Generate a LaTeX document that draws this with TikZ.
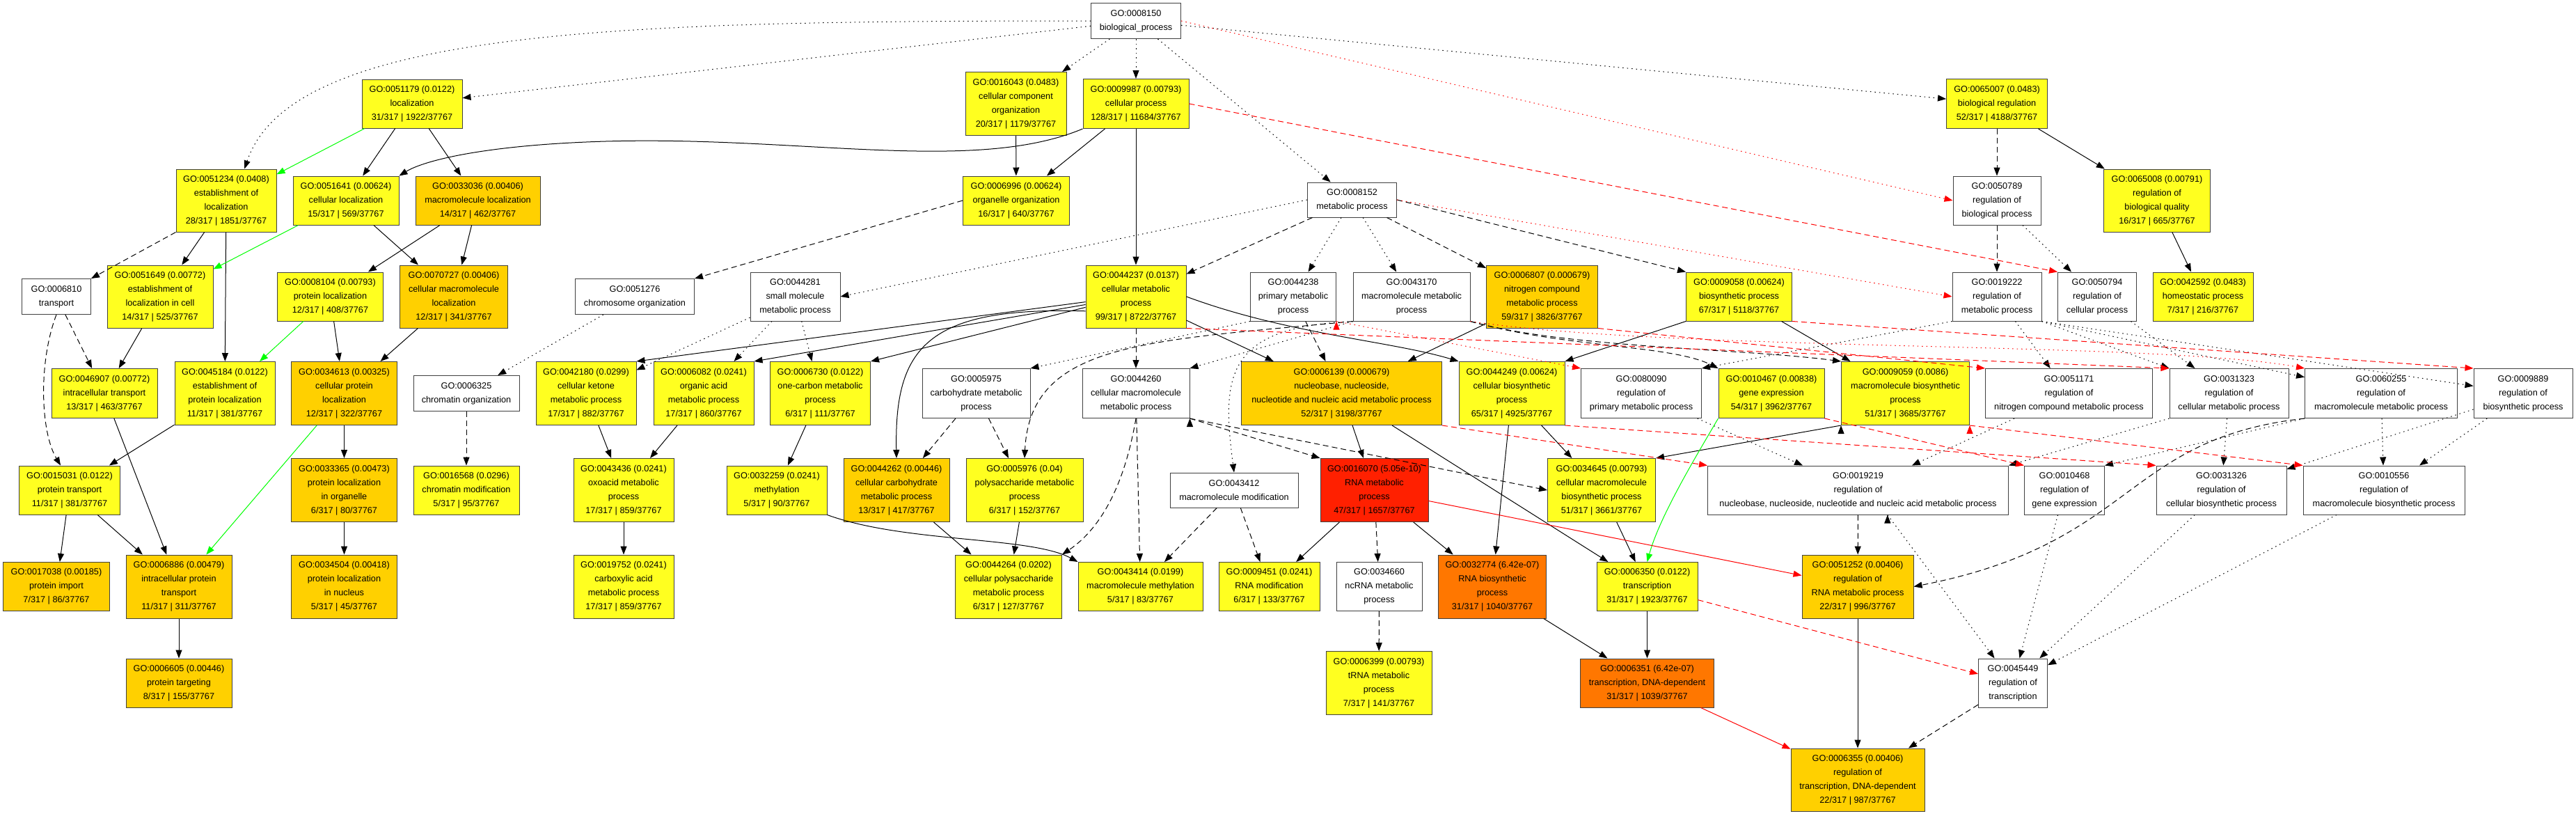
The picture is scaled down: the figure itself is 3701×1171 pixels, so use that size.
\documentclass[tikz,border=0pt]{standalone}
\usepackage{fontspec}
\setmainfont{Liberation Sans}
\usetikzlibrary{arrows.meta}

\definecolor{goyellow}{HTML}{FFFF20}
\definecolor{gogold}{HTML}{FFD000}
\definecolor{goorange}{HTML}{FF7700}
\definecolor{gored}{HTML}{FF2000}

\begin{document}
\begin{tikzpicture}[x=1pt, y=-1pt,
    gobox/.style={draw=black!75, line width=1pt, inner sep=0pt, align=center,
        font=\fontsize{12.7}{20}\selectfont},
    wbox/.style={gobox, fill=white},
    ybox/.style={gobox, fill=goyellow},
    gbox/.style={gobox, fill=gogold},
    obox/.style={gobox, fill=goorange},
    rbox/.style={gobox, fill=gored},
    sz/.style 2 args={minimum width=#1pt, minimum height=#2pt},
    solidarr/.style={-{Triangle[length=12pt, width=9pt]}, line width=1pt},
    dasharr/.style={solidarr, dash pattern=on 8pt off 5pt},
    dotarr/.style={solidarr, dash pattern=on 1.5pt off 5pt},
    grnarr/.style={solidarr, green},
    rdasharr/.style={dasharr, red},
    rdotarr/.style={dotarr, red},
    rsolarr/.style={solidarr, red}]

    \path[use as bounding box, fill=white] (0, 0) rectangle (3701, 1171);

    % top rows
    \node[wbox, sz={129}{51}] (n8150) at (1632, 30) {GO:0008150\\biological\_process};
    \node[ybox, sz={144}{70}] (n51179) at (592, 149) {GO:0051179 (0.0122)\\localization\\31/317 | 1922/37767};
    \node[ybox, sz={145}{91}] (n16043) at (1459.5, 149) {GO:0016043 (0.0483)\\cellular component\\organization\\20/317 | 1179/37767};
    \node[ybox, sz={152}{71}] (n9987) at (1632, 149) {GO:0009987 (0.00793)\\cellular process\\128/317 | 11684/37767};
    \node[ybox, sz={145}{71}] (n65007) at (2869, 149) {GO:0065007 (0.0483)\\biological regulation\\52/317 | 4188/37767};

    \node[ybox, sz={144}{90}] (n51234) at (325, 288) {GO:0051234 (0.0408)\\establishment of\\localization\\28/317 | 1851/37767};
    \node[ybox, sz={152}{70}] (n51641) at (497, 288) {GO:0051641 (0.00624)\\cellular localization\\15/317 | 569/37767};
    \node[gbox, sz={179}{70}] (n33036) at (686.5, 288) {GO:0033036 (0.00406)\\macromolecule localization\\14/317 | 462/37767};
    \node[ybox, sz={153}{70}] (n6996) at (1460, 288) {GO:0006996 (0.00624)\\organelle organization\\16/317 | 640/37767};
    \node[wbox, sz={128}{50}] (n8152) at (1942.5, 287) {GO:0008152\\metabolic process};
    \node[wbox, sz={126}{70}] (n50789) at (2869, 288) {GO:0050789\\regulation of\\biological process};
    \node[ybox, sz={153}{90}] (n65008) at (3099, 288) {GO:0065008 (0.00791)\\regulation of\\biological quality\\16/317 | 665/37767};

    \node[wbox, sz={99}{51}] (n6810) at (81, 426) {GO:0006810\\transport};
    \node[ybox, sz={152}{90}] (n51649) at (230, 426) {GO:0051649 (0.00772)\\establishment of\\localization in cell\\14/317 | 525/37767};
    \node[ybox, sz={152}{70}] (n8104) at (474.5, 426) {GO:0008104 (0.00793)\\protein localization\\12/317 | 408/37767};
    \node[gbox, sz={155}{90}] (n70727) at (652, 426) {GO:0070727 (0.00406)\\cellular macromolecule\\localization\\12/317 | 341/37767};
    \node[wbox, sz={171}{51}] (n51276) at (912, 426) {GO:0051276\\chromosome organization};
    \node[wbox, sz={129}{70}] (n44281) at (1142.5, 426) {GO:0044281\\small molecule\\metabolic process};
    \node[ybox, sz={144}{90}] (n44237) at (1632, 426) {GO:0044237 (0.0137)\\cellular metabolic\\process\\99/317 | 8722/37767};
    \node[wbox, sz={123}{70}] (n44238) at (1858, 426) {GO:0044238\\primary metabolic\\process};
    \node[wbox, sz={168}{70}] (n43170) at (2028, 426) {GO:0043170\\macromolecule metabolic\\process};
    \node[gbox, sz={160}{90}] (n6807) at (2215.5, 426) {GO:0006807 (0.000679)\\nitrogen compound\\metabolic process\\59/317 | 3826/37767};
    \node[ybox, sz={152}{70}] (n9058) at (2498.5, 426) {GO:0009058 (0.00624)\\biosynthetic process\\67/317 | 5118/37767};
    \node[wbox, sz={128}{70}] (n19222) at (2869, 426) {GO:0019222\\regulation of\\metabolic process};
    \node[wbox, sz={113}{70}] (n50794) at (3013, 426) {GO:0050794\\regulation of\\cellular process};
    \node[ybox, sz={144}{70}] (n42592) at (3165, 426) {GO:0042592 (0.0483)\\homeostatic process\\7/317 | 216/37767};

    % middle row
    \node[ybox, sz={152}{71}] (n46907) at (150, 565) {GO:0046907 (0.00772)\\intracellular transport\\13/317 | 463/37767};
    \node[ybox, sz={144}{91}] (n45184) at (323, 565) {GO:0045184 (0.0122)\\establishment of\\protein localization\\11/317 | 381/37767};
    \node[gbox, sz={152}{91}] (n34613) at (494.5, 565) {GO:0034613 (0.00325)\\cellular protein\\localization\\12/317 | 322/37767};
    \node[wbox, sz={152}{51}] (n6325) at (670, 565) {GO:0006325\\chromatin organization};
    \node[ybox, sz={144}{91}] (n42180) at (842, 565) {GO:0042180 (0.0299)\\cellular ketone\\metabolic process\\17/317 | 882/37767};
    \node[ybox, sz={144}{91}] (n6082) at (1011, 565) {GO:0006082 (0.0241)\\organic acid\\metabolic process\\17/317 | 860/37767};
    \node[ybox, sz={144}{91}] (n6730) at (1178.5, 565) {GO:0006730 (0.0122)\\one-carbon metabolic\\process\\6/317 | 111/37767};
    \node[wbox, sz={155}{71}] (n5975) at (1402.5, 565) {GO:0005975\\carbohydrate metabolic\\process};
    \node[wbox, sz={154}{71}] (n44260) at (1632, 565) {GO:0044260\\cellular macromolecule\\metabolic process};
    \node[gbox, sz={288}{91}] (n6139) at (1927.5, 565) {GO:0006139 (0.000679)\\nucleobase, nucleoside,\\nucleotide and nucleic acid metabolic process\\52/317 | 3198/37767};
    \node[ybox, sz={152}{91}] (n44249) at (2172, 565) {GO:0044249 (0.00624)\\cellular biosynthetic\\process\\65/317 | 4925/37767};
    \node[wbox, sz={173}{71}] (n80090) at (2358, 565) {GO:0080090\\regulation of\\primary metabolic process};
    \node[ybox, sz={152}{71}] (n10467) at (2545, 565) {GO:0010467 (0.00838)\\gene expression\\54/317 | 3962/37767};
    \node[ybox, sz={184}{91}] (n9059) at (2737.5, 565) {GO:0009059 (0.0086)\\macromolecule biosynthetic\\process\\51/317 | 3685/37767};
    \node[wbox, sz={240}{71}] (n51171) at (2972.5, 565) {GO:0051171\\regulation of\\nitrogen compound metabolic process};
    \node[wbox, sz={171}{71}] (n31323) at (3202.5, 565) {GO:0031323\\regulation of\\cellular metabolic process};
    \node[wbox, sz={219}{71}] (n60255) at (3421, 565) {GO:0060255\\regulation of\\macromolecule metabolic process};
    \node[wbox, sz={142}{71}] (n9889) at (3625, 565) {GO:0009889\\regulation of\\biosynthetic process};

    \node[ybox, sz={145}{70}] (n15031) at (100, 704) {GO:0015031 (0.0122)\\protein transport\\11/317 | 381/37767};
    \node[gbox, sz={152}{91}] (n33365) at (494.5, 704) {GO:0033365 (0.00473)\\protein localization\\in organelle\\6/317 | 80/37767};
    \node[ybox, sz={152}{70}] (n16568) at (670, 704) {GO:0016568 (0.0296)\\chromatin modification\\5/317 | 95/37767};
    \node[ybox, sz={144}{91}] (n43436) at (896, 704) {GO:0043436 (0.0241)\\oxoacid metabolic\\process\\17/317 | 859/37767};
    \node[ybox, sz={144}{70}] (n32259) at (1116, 704) {GO:0032259 (0.0241)\\methylation\\5/317 | 90/37767};
    \node[gbox, sz={152}{91}] (n44262) at (1288, 704) {GO:0044262 (0.00446)\\cellular carbohydrate\\metabolic process\\13/317 | 417/37767};
    \node[ybox, sz={168}{91}] (n5976) at (1472, 704) {GO:0005976 (0.04)\\polysaccharide metabolic\\process\\6/317 | 152/37767};
    \node[wbox, sz={184}{50}] (n43412) at (1773, 704) {GO:0043412\\macromolecule modification};
    \node[rbox, sz={155}{91}] (n16070) at (1974.5, 704) {GO:0016070 (5.05e-10)\\RNA metabolic\\process\\47/317 | 1657/37767};
    \node[ybox, sz={155}{91}] (n34645) at (2301, 704) {GO:0034645 (0.00793)\\cellular macromolecule\\biosynthetic process\\51/317 | 3661/37767};
    \node[wbox, sz={432}{70}] (n19219) at (2669.5, 704) {GO:0019219\\regulation of\\nucleobase, nucleoside, nucleotide and nucleic acid metabolic process};
    \node[wbox, sz={115}{70}] (n10468) at (2966, 704) {GO:0010468\\regulation of\\gene expression};
    \node[wbox, sz={187}{70}] (n31326) at (3191.5, 704) {GO:0031326\\regulation of\\cellular biosynthetic process};
    \node[wbox, sz={232}{70}] (n10556) at (3425, 704) {GO:0010556\\regulation of\\macromolecule biosynthetic process};

    % bottom rows
    \node[gbox, sz={153}{70}] (n17038) at (81, 842.5) {GO:0017038 (0.00185)\\protein import\\7/317 | 86/37767};
    \node[gbox, sz={152}{91}] (n6886) at (257, 842.5) {GO:0006886 (0.00479)\\intracellular protein\\transport\\11/317 | 311/37767};
    \node[gbox, sz={152}{91}] (n34504) at (494.5, 842.5) {GO:0034504 (0.00418)\\protein localization\\in nucleus\\5/317 | 45/37767};
    \node[ybox, sz={144}{91}] (n19752) at (896, 842.5) {GO:0019752 (0.0241)\\carboxylic acid\\metabolic process\\17/317 | 859/37767};
    \node[ybox, sz={153}{91}] (n44264) at (1449, 842.5) {GO:0044264 (0.0202)\\cellular polysaccharide\\metabolic process\\6/317 | 127/37767};
    \node[ybox, sz={179}{70}] (n43414) at (1638.5, 842.5) {GO:0043414 (0.0199)\\macromolecule methylation\\5/317 | 83/37767};
    \node[ybox, sz={145}{70}] (n9451) at (1823.5, 842.5) {GO:0009451 (0.0241)\\RNA modification\\6/317 | 133/37767};
    \node[wbox, sz={123}{70}] (n34660) at (1981.5, 842.5) {GO:0034660\\ncRNA metabolic\\process};
    \node[obox, sz={155}{91}] (n32774) at (2144, 842.5) {GO:0032774 (6.42e-07)\\RNA biosynthetic\\process\\31/317 | 1040/37767};
    \node[ybox, sz={145}{70}] (n6350) at (2366.5, 842.5) {GO:0006350 (0.0122)\\transcription\\31/317 | 1923/37767};
    \node[gbox, sz={160}{91}] (n51252) at (2669, 842.5) {GO:0051252 (0.00406)\\regulation of\\RNA metabolic process\\22/317 | 996/37767};

    \node[gbox, sz={152}{70}] (n6605) at (257, 981) {GO:0006605 (0.00446)\\protein targeting\\8/317 | 155/37767};
    \node[ybox, sz={152}{91}] (n6399) at (1981, 981) {GO:0006399 (0.00793)\\tRNA metabolic\\process\\7/317 | 141/37767};
    \node[obox, sz={192}{70}] (n6351) at (2366.5, 981) {GO:0006351 (6.42e-07)\\transcription, DNA-dependent\\31/317 | 1039/37767};
    \node[wbox, sz={99}{70}] (n45449) at (2892, 981) {GO:0045449\\regulation of\\transcription};
    \node[gbox, sz={192}{90}] (n6355) at (2669, 1120) {GO:0006355 (0.00406)\\regulation of\\transcription, DNA-dependent\\22/317 | 987/37767};

    % solid black
    \draw[solidarr]
        (n9987) edge (n6996)
        (n9987) edge (n44237)
        (n16043) edge (n6996)
        (n51179) edge (n51641)
        (n51179) edge (n33036)
        (n65007) edge (n65008)
        (n65008) edge (n42592)
        (n51234) edge (n51649)
        (n51234) edge (n45184)
        (n51641) edge (n70727)
        (n33036) edge (n8104)
        (n33036) edge (n70727)
        (n8104) edge (n34613)
        (n70727) edge (n34613)
        (n51649) edge (n46907)
        (n46907) edge (n6886)
        (n45184) edge (n15031)
        (n15031) edge (n17038)
        (n15031) edge (n6886)
        (n34613) edge (n33365)
        (n33365) edge (n34504)
        (n6886) edge (n6605)
        (n44237.186) edge (n42180.north east)
        (n44237.189) edge (n6082.north east)
        (n44237.192) edge (n6730.north east)
        (n44237) edge (n6139)
        (n42180) edge (n43436)
        (n6082) edge (n43436)
        (n43436) edge (n19752)
        (n6730) edge (n32259)
        (n44262) edge (n44264)
        (n5976) edge (n44264)
        (n6807) edge (n6139)
        (n9058.south west) edge (n44249.north east)
        (n9058) edge (n9059)
        (n6139) edge (n16070)
        (n6139) edge (n6350)
        (n44249) edge (n34645)
        (n44249) edge (n32774)
        (n9059.south west) edge (n34645.north east)
        (n16070) edge (n9451)
        (n16070) edge (n32774)
        (n34645) edge (n6350)
        (n32774) edge (n6351)
        (n6350) edge (n6351)
        (n51252) edge (n6355);
    \draw[solidarr] (n9987.south west) .. controls (1400, 250) and (1150, 195) .. (870, 203)
        .. controls (700, 208) and (610, 230) .. (n51641.north east);
    \draw[solidarr] (n44237.196) .. controls (1330, 440) and (1285, 500) .. (n44262.north);
    \draw[solidarr] (n44237.east) .. controls (1850, 480) and (2000, 490) .. (n44249.north west);
    \draw[solidarr] (n32259.south east) .. controls (1300, 780) and (1480, 770) .. (n43414.north west);

    % dashed black
    \draw[dasharr]
        (n65007) edge (n50789)
        (n50789) edge (n19222)
        (n51234.south west) edge (n6810.north east)
        (n6810) edge (n46907)
        (n6996.west) edge (n51276.north east)
        (n6325) edge (n16568)
        (n8152) edge (n44237)
        (n8152) edge (n6807)
        (n8152.east) edge (n9058.north west)
        (n44237) edge (n44260)
        (n44238) edge (n6139)
        (n5975) edge (n44262)
        (n5975) edge (n5976)
        (n44260.south east) edge (n16070.north west)
        (n44260.south east) edge (n34645.west)
        (n44260) edge (n43414)
        (n43412) edge (n43414)
        (n43412) edge (n9451)
        (n16070) edge (n34660)
        (n34660) edge (n6399)
        (n19219) edge (n51252)
        (n45449) edge (n6355);
    \draw[dasharr] (n6810.south) .. controls (55, 520) and (58, 620) .. (n15031.110);
    \draw[dasharr] (n43170.south west) .. controls (1650, 490) and (1480, 490) .. (n5976.north);
    \draw[dasharr] (n43170.south east) .. controls (2250, 500) and (2400, 495) .. (n10467.north west);
    \draw[dasharr] (n43170.south east) .. controls (2250, 500) and (2500, 500) .. (n9059.north west);
    \draw[dasharr] (n44260.south) .. controls (1615, 700) and (1580, 760) .. (n44264.north east);
    \draw[dasharr] (n60255.south west) .. controls (3050, 630) and (3070, 780) .. (n51252.east);

    % dotted black
    \draw[dotarr]
        (n8150) edge (n51179)
        (n8150) edge (n16043)
        (n8150) edge (n9987)
        (n8150) edge (n8152)
        (n8150) edge (n65007)
        (n50789) edge (n50794)
        (n51276) edge (n6325)
        (n8152.west) edge (n44281.east)
        (n8152) edge (n44238)
        (n8152) edge (n43170)
        (n44281) edge (n42180)
        (n44281) edge (n6082)
        (n44281) edge (n6730)
        (n44238.south west) edge (n5975.north east)
        (n43170.south west) edge (n44260.north east)
        (n19222.south west) edge (n80090.north east)
        (n19222) edge (n51171)
        (n19222.south east) edge (n31323.north west)
        (n19222.south east) edge (n60255)
        (n19222.south east) edge (n9889)
        (n50794) edge (n31323)
        (n80090) edge (n19219)
        (n51171) edge (n19219)
        (n31323.south west) edge (n19219.north east)
        (n31323) edge (n31326)
        (n9889) edge (n31326)
        (n9889) edge (n10556)
        (n60255) edge (n10556)
        (n60255.south west) edge (n10468.north east)
        (n19219.-40) edge (n45449)
        (n10468) edge (n45449)
        (n31326) edge (n45449)
        (n10556) edge (n45449);
    \draw[dotarr] (n8150.west) .. controls (900, 30) and (420, 40) .. (n51234.60);
    \draw[dotarr] (n43170.south west) .. controls (1760, 470) and (1755, 540) .. (n43412.north);

    % green
    \draw[grnarr]
        (n51179) edge (n51234)
        (n51641) edge (n51649)
        (n8104) edge (n45184)
        (n34613) edge (n6886);
    \draw[grnarr] (n10467.south west) .. controls (2440, 650) and (2385, 740) .. (n6350.north);

    % red
    \draw[rdasharr]
        (n9987.east) edge (n50794.north west)
        (n44237.south east) edge (n31323.north west)
        (n6807.south east) edge (n51171.north west)
        (n9058.south east) edge (n9889.north west)
        (n6139.south east) edge (n19219.north west)
        (n44249.south east) edge (n31326.north west)
        (n10467.south east) edge (n10468.north west)
        (n9059.south east) edge (n10556.north west)
        (n6350) edge (n45449);
    \draw[rdotarr]
        (n8150.east) edge (n50789.west)
        (n8152.east) edge (n19222.west)
        (n44238.south east) edge (n80090.north west);
    \draw[rdotarr] (n43170.south east) .. controls (2400, 505) and (3100, 490) .. (n60255.north west);
    \draw[rsolarr]
        (n16070) edge (n51252)
        (n6351) edge (n6355);
\end{tikzpicture}
\end{document}
